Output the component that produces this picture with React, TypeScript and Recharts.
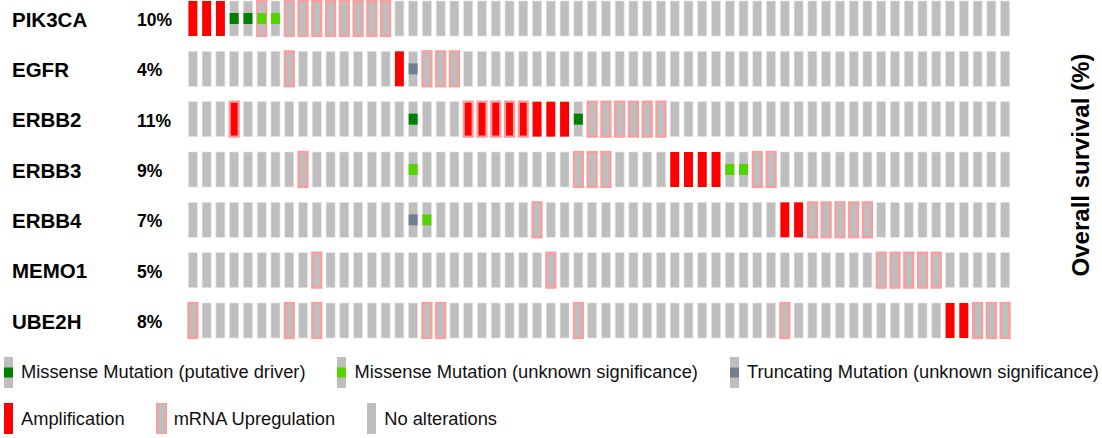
import { ScatterChart, Scatter, XAxis, YAxis } from 'recharts';

const genes = ['PIK3CA', 'EGFR', 'ERBB2', 'ERBB3', 'ERBB4', 'MEMO1', 'UBE2H'];
const alteredPct = ['10%', '4%', '11%', '9%', '7%', '5%', '8%'];
const SAMPLES = 60;

// altered sample columns (0-based), one list per gene
const amplification = [
  [0, 1, 2],
  [15],
  [3, 20, 21, 22, 23, 24, 25, 26, 27],
  [35, 36, 37, 38],
  [43, 44],
  [],
  [55, 56],
];
const mrnaUp = [
  [5, 7, 8, 9, 10, 11, 12, 13, 14],
  [7, 17, 18, 19],
  [3, 20, 21, 22, 23, 24, 29, 30, 31, 32, 33, 34],
  [8, 28, 29, 30, 41, 42],
  [25, 45, 46, 47, 48, 49],
  [9, 26, 50, 51, 52, 53, 54],
  [0, 7, 9, 17, 18, 28, 43, 57, 58, 59],
];
const missenseDriver = [[3, 4], [], [16, 28], [], [], [], []];
const missenseVus = [[5, 6], [], [], [16, 39, 40], [17], [], []];
const truncatingVus = [[], [16], [], [], [16], [], []];

const GRAY = '#bebebe';
const RED = '#ff0000';
const PINK = '#ff9b9b';
const mutColors = { driver: '#008000', vus: '#53d400', trunc: '#708090' };
const FONT = '"Liberation Sans", Arial, sans-serif';

const cells = [];
genes.forEach((g, row) => {
  for (let col = 0; col < SAMPLES; col++) {
    let mut = null;
    if (missenseDriver[row].includes(col)) mut = 'driver';
    else if (missenseVus[row].includes(col)) mut = 'vus';
    else if (truncatingVus[row].includes(col)) mut = 'trunc';
    cells.push({
      gene: g,
      row,
      col,
      amp: amplification[row].includes(col),
      mrna: mrnaUp[row].includes(col),
      mut,
    });
  }
});

function OncoCell(props) {
  const { cx, cy, payload } = props;
  const w = 9;
  const h = 35;
  return (
    <g>
      <rect
        x={cx - w / 2}
        y={cy - h / 2}
        width={w}
        height={h}
        fill={payload.amp ? RED : GRAY}
        stroke={payload.amp ? 'none' : '#e3e3e3'}
        strokeWidth={0.7}
      />
      {payload.mrna && (
        <rect x={cx - w / 2} y={cy - h / 2} width={w} height={h} fill="none" stroke={PINK} strokeWidth={2.2} />
      )}
      {payload.mut && (
        <rect x={cx - w / 2} y={cy - 5.5} width={w} height={11} fill={mutColors[payload.mut]} />
      )}
    </g>
  );
}

function GeneTick({ y, payload }) {
  const i = payload.value;
  return (
    <g>
      <text x={12} y={y + 8} fontFamily={FONT} fontWeight="bold" fontSize={20.5} fill="#000">
        {genes[i]}
      </text>
      <text x={137} y={y + 7.5} fontFamily={FONT} fontWeight="bold" fontSize={17.5} fill="#000">
        {alteredPct[i]}
      </text>
    </g>
  );
}

function Icon({ kind }) {
  return (
    <svg width={11} height={31} style={{ display: 'block' }}>
      <rect x={1} y={0} width={9} height={31} fill={kind === 'amp' ? RED : GRAY} />
      {kind === 'mrna' && <rect x={1} y={0} width={9} height={31} fill="none" stroke={PINK} strokeWidth={2.2} />}
      {mutColors[kind] && <rect x={1} y={10.5} width={9} height={10} fill={mutColors[kind]} />}
    </svg>
  );
}

const legendRow1 = [
  ['driver', 'Missense Mutation (putative driver)'],
  ['vus', 'Missense Mutation (unknown significance)'],
  ['trunc', 'Truncating Mutation (unknown significance)'],
];
const legendRow2 = [
  ['amp', 'Amplification'],
  ['mrna', 'mRNA Upregulation'],
  ['none', 'No alterations'],
];

function LegendRow({ items, top }) {
  return (
    <div style={{ position: 'absolute', left: 3, top, display: 'flex', alignItems: 'center', height: 31, fontFamily: FONT, fontSize: 18.3, color: '#111', whiteSpace: 'nowrap' }}>
      {items.map(([k, label]) => (
        <div key={k} style={{ display: 'flex', alignItems: 'center', marginRight: 31 }}>
          <Icon kind={k} />
          <span style={{ marginLeft: 7 }}>{label}</span>
        </div>
      ))}
    </div>
  );
}

export default function App() {
  return (
    <div style={{ position: 'absolute', left: 0, top: 0, width: 1102, height: 438, background: '#fff' }}>
      <ScatterChart width={1102} height={340} margin={{ top: 18.5, right: 90, bottom: 19.5, left: 0 }}>
        <XAxis type="number" dataKey="col" domain={[-0.5, SAMPLES - 0.5]} hide />
        <YAxis
          type="number"
          dataKey="row"
          domain={[0, genes.length - 1]}
          ticks={genes.map((_, i) => i)}
          interval={0}
          reversed
          width={186}
          axisLine={false}
          tickLine={false}
          tick={GeneTick}
        />
        <Scatter data={cells} shape={OncoCell} isAnimationActive={false} />
        <text
          x={1080}
          y={165}
          transform="rotate(-90 1080 165)"
          textAnchor="middle"
          dominantBaseline="central"
          fontFamily={FONT}
          fontWeight="bold"
          fontSize={24}
          fill="#000"
        >
          Overall survival (%)
        </text>
      </ScatterChart>
      <LegendRow items={legendRow1} top={356.5} />
      <LegendRow items={legendRow2} top={403} />
    </div>
  );
}
